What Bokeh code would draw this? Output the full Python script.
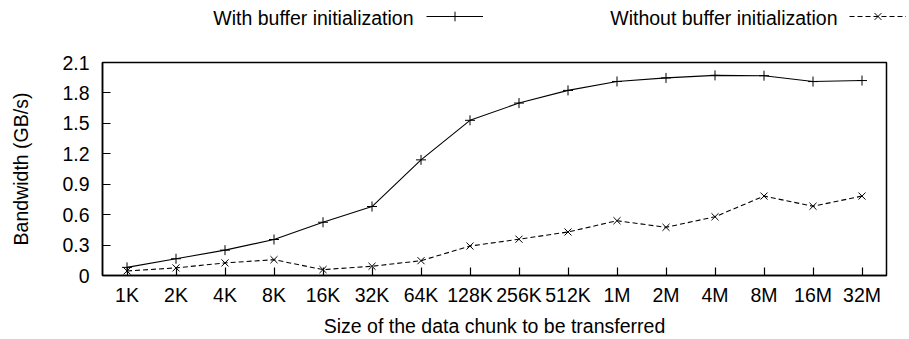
from bokeh.plotting import figure
from bokeh.layouts import column
from bokeh.models import FactorRange, Range1d, FixedTicker, Legend, LegendItem, Label
from bokeh.embed import file_html
from bokeh.resources import INLINE

sizes = ["1K", "2K", "4K", "8K", "16K", "32K", "64K", "128K", "256K", "512K",
         "1M", "2M", "4M", "8M", "16M", "32M"]
with_init = [0.08, 0.165, 0.25, 0.355, 0.525, 0.68, 1.14, 1.53, 1.70, 1.825,
             1.913, 1.948, 1.973, 1.970, 1.912, 1.922]
without_init = [0.045, 0.075, 0.124, 0.156, 0.058, 0.091, 0.146, 0.29, 0.358, 0.429,
                0.54, 0.475, 0.579, 0.783, 0.683, 0.783]
y_ticks = [0, 0.3, 0.6, 0.9, 1.2, 1.5, 1.8, 2.1]
series_names = ["With buffer initialization", "Without buffer initialization"]

FONT = "Liberation Sans"
FS = "19.5px"


def add_series(fig):
    r1 = fig.line(x=sizes, y=with_init, line_color="black", line_width=1.1)
    s1 = fig.scatter(x=sizes, y=with_init, marker="cross", size=10,
                     line_color="black", line_width=1)
    r2 = fig.line(x=sizes, y=without_init, line_color="black", line_width=1.1,
                  line_dash="5 3")
    s2 = fig.scatter(x=sizes, y=without_init, marker="x", size=10,
                     line_color="black", line_width=1)
    return [r1, s1], [r2, s2]


# ---- main chart ----
p = figure(width=909, height=299,
           x_range=FactorRange(factors=sizes, range_padding=0),
           y_range=Range1d(0, 2.1),
           output_backend="svg", toolbar_location=None,
           min_border_left=102, min_border_right=23,
           min_border_top=22, min_border_bottom=62)
p.frame_align = False
p.xgrid.visible = False
p.ygrid.visible = False
p.outline_line_color = "black"
p.outline_line_width = 1.5
add_series(p)

for ax in (p.xaxis[0], p.yaxis[0]):
    ax.major_tick_in = 8
    ax.major_tick_out = 0
    ax.minor_tick_line_color = None
    ax.axis_line_width = 1.5
    ax.major_tick_line_width = 1.2
    ax.major_label_text_font = FONT
    ax.major_label_text_font_size = FS
    ax.major_label_text_color = "black"
    ax.axis_label_text_font = FONT
    ax.axis_label_text_font_size = FS
    ax.axis_label_text_font_style = "normal"
    ax.axis_label_text_color = "black"

p.xaxis.axis_label = "Size of the data chunk to be transferred"
p.xaxis.major_label_standoff = 8
p.xaxis.axis_label_standoff = 6

p.yaxis.axis_label = "Bandwidth (GB/s)"
p.yaxis.ticker = FixedTicker(ticks=y_ticks)
p.yaxis.major_label_overrides = {0: "0"}
p.yaxis.major_label_standoff = 13
p.yaxis.axis_label_standoff = 27

# ---- key strip above the chart ----
KH = 40
k = figure(width=909, height=KH,
           x_range=FactorRange(factors=sizes, range_padding=0),
           y_range=Range1d(10, 11),
           output_backend="svg", toolbar_location=None,
           min_border_left=0, min_border_right=0, min_border_top=0, min_border_bottom=0,
           x_axis_location=None, y_axis_location=None)
k.frame_align = False
k.xgrid.visible = False
k.ygrid.visible = False
k.outline_line_color = None
key1, key2 = add_series(k)

for rends, gx, tx, name in zip([key1, key2], [426, 849], [413, 837], series_names):
    lg = Legend(items=[LegendItem(label=" ", renderers=rends)],
                location=(gx, KH - 28), glyph_width=57, glyph_height=24,
                padding=0, margin=0, spacing=0, label_width=0, label_standoff=0,
                label_text_font_size="1px", border_line_color=None,
                background_fill_alpha=0)
    k.add_layout(lg)
    k.add_layout(Label(x=tx, y=KH - 17, x_units="screen", y_units="screen", text=name,
                       text_align="right", text_baseline="middle",
                       text_font=FONT, text_font_size=FS, text_color="black"))

layout = column(k, p, spacing=0)
open("out.html", "w").write(file_html(layout, INLINE))
